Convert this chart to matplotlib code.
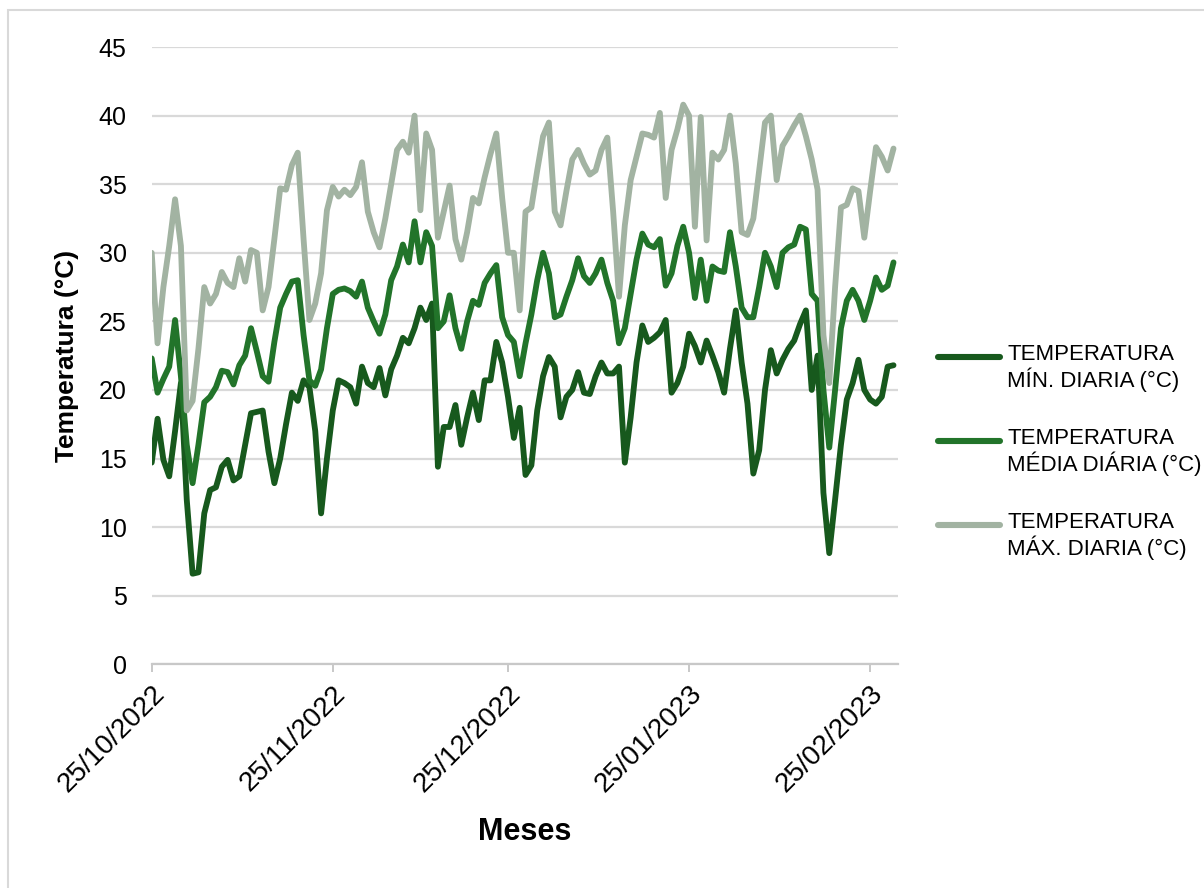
import numpy as np
import pandas as pd
import matplotlib
matplotlib.use("Agg")
import matplotlib.pyplot as plt
import matplotlib.dates as mdates
from matplotlib.lines import Line2D
from matplotlib.patches import Rectangle

plt.rcParams['font.family'] = ['Liberation Sans', 'DejaVu Sans']

# Daily temperatures (°C), starting 25/10/2022
t_min = [14.7, 17.9, 14.9, 13.7, 17.0, 20.5, 12.0, 6.6, 6.7, 11.0,
         12.7, 12.9, 14.4, 14.9, 13.4, 13.7, 16.0, 18.3, 18.4, 18.5,
         15.5, 13.2, 15.0, 17.5, 19.8, 19.2, 20.7, 20.2, 17.0, 11.0,
         15.0, 18.5, 20.7, 20.5, 20.2, 19.0, 21.7, 20.5, 20.2, 21.6,
         19.6, 21.5, 22.5, 23.8, 23.4, 24.5, 26.0, 25.1, 26.3, 14.4,
         17.3, 17.3, 18.9, 16.0, 18.0, 19.8, 17.8, 20.7, 20.7, 23.5,
         22.0, 19.5, 16.5, 18.7, 13.8, 14.5, 18.5, 21.0, 22.4, 21.7,
         18.0, 19.5, 20.0, 21.3, 19.8, 19.7, 21.0, 22.0, 21.2, 21.2,
         21.7, 14.7, 18.0, 22.0, 24.7, 23.5, 23.8, 24.2, 25.1, 19.8,
         20.5, 21.7, 24.1, 23.2, 22.0, 23.6, 22.5, 21.3, 19.8, 23.0,
         25.8, 22.0, 19.0, 13.9, 15.6, 20.0, 22.9, 21.2, 22.2, 23.0,
         23.6, 24.8, 25.8, 20.0, 22.5, 12.5, 8.1, 12.0, 16.0, 19.3,
         20.5, 22.2, 20.0, 19.3, 19.0, 19.5, 21.7, 21.8]

t_med = [22.3, 19.8, 20.8, 21.7, 25.1, 21.0, 16.0, 13.2, 16.0, 19.1,
         19.5, 20.2, 21.4, 21.3, 20.4, 21.8, 22.5, 24.5, 22.8, 21.0,
         20.6, 23.5, 26.0, 27.0, 27.9, 28.0, 24.0, 20.7, 20.3, 21.5,
         24.5, 27.0, 27.3, 27.4, 27.2, 26.8, 27.9, 26.0, 25.0, 24.1,
         25.5, 28.0, 29.0, 30.6, 29.3, 32.3, 29.3, 31.5, 30.5, 24.5,
         25.0, 26.9, 24.5, 23.0, 25.0, 26.5, 26.2, 27.8, 28.5, 29.1,
         25.3, 24.0, 23.5, 21.0, 23.4, 25.5, 28.0, 30.0, 28.5, 25.3,
         25.5, 26.8, 28.0, 29.6, 28.3, 27.8, 28.5, 29.5, 27.8, 26.5,
         23.4, 24.5, 27.0, 29.5, 31.4, 30.6, 30.4, 31.0, 27.6, 28.5,
         30.5, 31.9, 30.0, 26.7, 29.5, 26.5, 29.0, 28.7, 28.6, 31.5,
         29.0, 26.0, 25.3, 25.3, 27.5, 30.0, 29.0, 27.5, 30.0, 30.4,
         30.6, 31.9, 31.7, 27.0, 26.5, 20.0, 15.8, 20.0, 24.5, 26.5,
         27.3, 26.5, 25.1, 26.5, 28.2, 27.3, 27.6, 29.3]

t_max = [30.0, 23.4, 27.5, 30.5, 33.9, 30.5, 18.5, 19.2, 23.0, 27.5,
         26.3, 27.0, 28.6, 27.8, 27.5, 29.6, 27.9, 30.2, 30.0, 25.8,
         27.5, 31.0, 34.7, 34.6, 36.4, 37.3, 31.0, 25.1, 26.3, 28.5,
         33.1, 34.8, 34.1, 34.6, 34.2, 34.8, 36.6, 33.0, 31.5, 30.4,
         32.5, 35.0, 37.5, 38.1, 37.3, 40.0, 33.1, 38.7, 37.5, 31.1,
         33.0, 34.9, 31.0, 29.5, 31.5, 34.0, 33.6, 35.5, 37.2, 38.7,
         34.0, 30.0, 30.0, 25.8, 33.0, 33.3, 36.0, 38.5, 39.5, 33.0,
         32.0, 34.5, 36.8, 37.5, 36.5, 35.7, 36.0, 37.5, 38.4, 33.0,
         26.8, 32.0, 35.3, 37.0, 38.7, 38.6, 38.4, 40.2, 34.0, 37.5,
         39.0, 40.8, 40.0, 31.9, 39.9, 30.9, 37.3, 36.8, 37.5, 40.0,
         36.5, 31.5, 31.3, 32.5, 36.0, 39.5, 40.0, 35.3, 37.8, 38.5,
         39.3, 40.0, 38.5, 36.8, 34.6, 24.0, 20.5, 27.5, 33.3, 33.5,
         34.7, 34.5, 31.1, 34.5, 37.7, 37.0, 36.0, 37.6]

dates = pd.date_range("2022-10-25", periods=len(t_min), freq="D")
tick_dates = pd.to_datetime(["2022-10-25", "2022-11-25", "2022-12-25",
                             "2023-01-25", "2023-02-25"])

labels = ["TEMPERATURA\nMÍN. DIARIA (°C)",
          "TEMPERATURA\nMÉDIA DIÁRIA (°C)",
          "TEMPERATURA\nMÁX. DIARIA (°C)"]
colors = ["#17591d", "#22742a", "#a2b3a2"]

fig = plt.figure(figsize=(12.04, 8.88), dpi=100)
ax = fig.add_axes([0.126, 0.252, 0.62, 0.695])

for serie, lab, col in zip([t_min, t_med, t_max], labels, colors):
    ax.plot(dates, serie, color=col, linewidth=4.2, label=lab,
            solid_joinstyle='round', solid_capstyle='round')

ax.set_ylim(0, 45)
ax.set_yticks(np.arange(0, 50, 5))
ax.set_xlim(dates[0], dates[0] + pd.Timedelta(days=127.8))
ax.set_xticks(tick_dates)
ax.xaxis.set_major_formatter(mdates.DateFormatter("%d/%m/%Y"))

ax.grid(axis='y', color='#d9d9d9', linewidth=1.6)
ax.set_axisbelow(True)
for s in ['top', 'right', 'left']:
    ax.spines[s].set_visible(False)
ax.spines['bottom'].set_color('#c8c8c8')
ax.spines['bottom'].set_linewidth(1.6)
ax.tick_params(axis='y', length=0, labelsize=18, pad=18)
ax.tick_params(axis='x', length=6, width=1.4, color='#c8c8c8', labelsize=20, pad=6)
plt.setp(ax.get_xticklabels(), rotation=45, ha='right', rotation_mode='anchor')

ax.set_ylabel("Temperatura (°C)", fontsize=19, fontweight='bold', va='center')
ax.yaxis.set_label_coords(-0.113, 0.5)
ax.set_xlabel("Meses", fontsize=22, fontweight='bold', va='center')
ax.xaxis.set_label_coords(0.5, -0.272)

# legend drawn at the right, handle aligned with the first text line
leg_x0, leg_x1, leg_tx = 938 / 1204, 1000 / 1204, 1007 / 1204
leg_y = [1 - 357 / 888, 1 - 441 / 888, 1 - 525 / 888]
for lab, col, ly in zip(labels, colors, leg_y):
    fig.add_artist(Line2D([leg_x0, leg_x1], [ly, ly], color=col, linewidth=4.4,
                          solid_capstyle='round', transform=fig.transFigure))
    fig.text(leg_tx, ly + 13 / 888, lab, fontsize=16, va='top', ha='left',
             linespacing=1.15)

# light chart-area border
fig.patches.append(Rectangle((8 / 1204, -0.1), 1.2, 0.1 + (1 - 10 / 888),
                             transform=fig.transFigure, fill=False,
                             edgecolor='#d9d9d9', linewidth=1.5))

fig.savefig("out.png", dpi=100)
